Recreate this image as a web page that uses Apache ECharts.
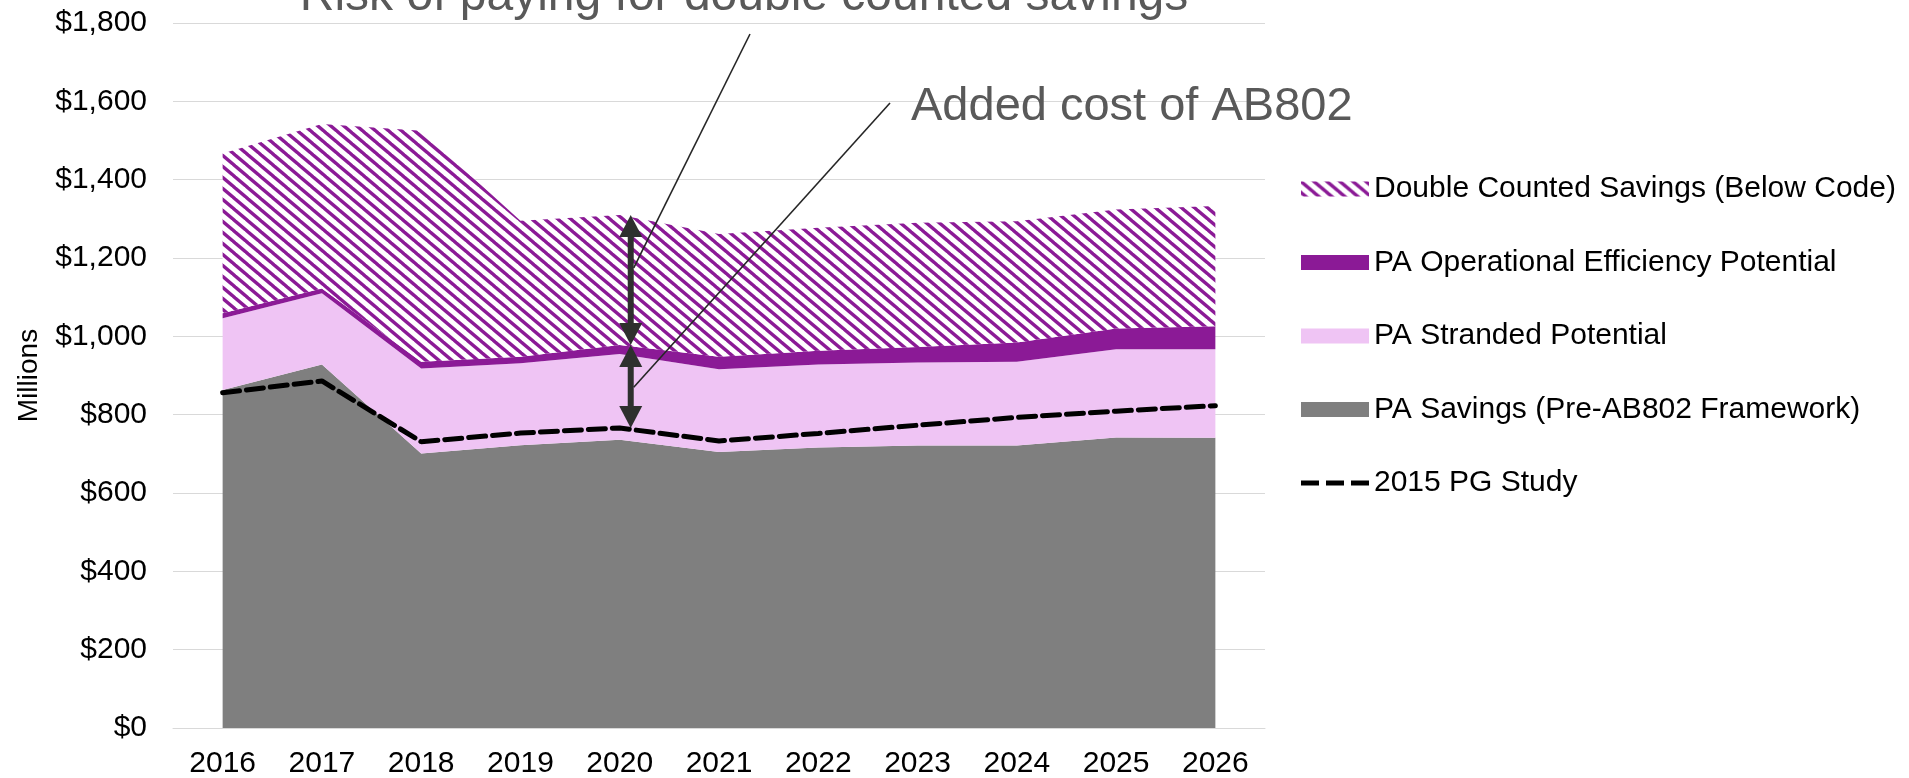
<!DOCTYPE html>
<html>
<head>
<meta charset="utf-8">
<script src="https://cdn.jsdelivr.net/npm/echarts@6/dist/echarts.min.js"></script>
<style>
  html, body { margin: 0; padding: 0; background: #ffffff; }
  #chart { width: 1909px; height: 778px; }
</style>
</head>
<body>
<div id="chart"></div>
<script>
// Program administrator savings outlook, $ millions per year
const years = ['2016', '2017', '2018', '2019', '2020', '2021', '2022', '2023', '2024', '2025', '2026'];
const paSavings          = [863, 928, 701, 722, 736, 705, 716, 721, 721, 742, 741];
const strandedPotential  = [183, 182, 217, 209, 219, 211, 212, 212, 214, 225, 226];
const operationalPotential = [13, 12, 17, 17, 23, 32, 35, 40, 49, 53, 59];
const doubleCounted      = [408, 420, 590, 347, 332, 313, 314, 317, 310, 304, 307];
const pgStudy2015        = [856, 886, 731, 753, 766, 733, 752, 773, 793, 809, 823];

const yMin = 0, yMax = 1800, yStep = 200;

// Annotation: year where the two cost gaps are marked, and where the leader lines touch the arrows
const markYear = '2020';
const leaderValues = [1175, 870];

const seriesNames = [
  'PA Savings (Pre-AB802 Framework)',
  'PA Stranded Potential',
  'PA Operational Efficiency Potential',
  'Double Counted Savings (Below Code)',
  '2015 PG Study'
];

const PURPLE = '#8B1A96';
const PINK = '#EFC4F4';
const GREY = '#7F7F7F';

// Diagonal hatch for the double counted band (stripes running down to the right)
function hatchPattern() {
  const w = 13, h = 11;
  const c = document.createElement('canvas');
  c.width = w; c.height = h;
  const ctx = c.getContext('2d');
  ctx.fillStyle = '#ffffff';
  ctx.fillRect(0, 0, w, h);
  ctx.strokeStyle = PURPLE;
  ctx.lineWidth = 3.4;
  const dx = w / h;
  for (const k of [-1, 0, 1]) {
    ctx.beginPath();
    ctx.moveTo(k * w - dx, -1);
    ctx.lineTo(k * w + w + dx, h + 1);
    ctx.stroke();
  }
  return { image: c, repeat: 'repeat' };
}
const HATCH = hatchPattern();

const FONT = '"Liberation Sans", Arial, sans-serif';

// Legend glyph for the dashed study line: three dashes centred in the icon box
const DASH_ICON = 'path://M0,0M68,15M0,5h18v5h-18zM25,5h18v5h-18zM50,5h18v5h-18z';

function areaSeries(name, data, color) {
  return {
    name, type: 'line', stack: 'total', data,
    symbol: 'none', smooth: false,
    lineStyle: { width: 0, color: 'rgba(0,0,0,0)' },
    itemStyle: { color },
    areaStyle: { color, opacity: 1 },
    emphasis: { disabled: true },
    z: 2
  };
}

const chart = echarts.init(document.getElementById('chart'), null, { renderer: 'canvas' });

chart.setOption({
  animation: false,
  backgroundColor: '#ffffff',
  grid: { left: 173, right: 644, top: 23, bottom: 50, containLabel: false, outerBoundsMode: 'none' },
  xAxis: {
    type: 'category',
    data: years,
    boundaryGap: true,
    axisLine: { show: true, lineStyle: { color: '#D9D9D9', width: 1 } },
    axisTick: { show: false },
    axisLabel: { color: '#000000', fontSize: 30, fontFamily: FONT, margin: 21, interval: 0 }
  },
  yAxis: {
    type: 'value',
    min: yMin, max: yMax, interval: yStep,
    name: 'Millions',
    nameLocation: 'middle',
    nameGap: 130,
    nameRotate: 90,
    nameTextStyle: { color: '#000000', fontSize: 28, fontFamily: FONT },
    axisLine: { show: false },
    axisTick: { show: false },
    splitLine: { lineStyle: { color: '#D9D9D9', width: 1 } },
    axisLabel: {
      color: '#000000', fontSize: 30, fontFamily: FONT, margin: 26,
      formatter: v => '$' + v.toLocaleString('en-US')
    }
  },
  legend: {
    orient: 'vertical',
    left: 1296,
    top: 169,
    itemWidth: 68,
    itemHeight: 15,
    itemGap: 43.5,
    selectedMode: false,
    textStyle: { color: '#000000', fontSize: 30, fontFamily: FONT, lineHeight: 30 },
    data: [
      { name: seriesNames[3], icon: 'rect', itemStyle: { color: HATCH } },
      { name: seriesNames[2], icon: 'rect', itemStyle: { color: PURPLE } },
      { name: seriesNames[1], icon: 'rect', itemStyle: { color: PINK } },
      { name: seriesNames[0], icon: 'rect', itemStyle: { color: GREY } },
      { name: seriesNames[4], icon: DASH_ICON, itemStyle: { color: '#000000' } }
    ]
  },
  series: [
    areaSeries(seriesNames[0], paSavings, GREY),
    areaSeries(seriesNames[1], strandedPotential, PINK),
    areaSeries(seriesNames[2], operationalPotential, PURPLE),
    areaSeries(seriesNames[3], doubleCounted, HATCH),
    {
      name: seriesNames[4], type: 'line', data: pgStudy2015,
      symbol: 'none',
      lineStyle: { color: '#000000', width: 5, type: [17, 7], cap: 'round' },
      itemStyle: { color: '#000000' },
      emphasis: { disabled: true },
      z: 5
    }
  ]
});

// Double-headed arrows and call-out labels at the marked year
function drawAnnotations() {
  const i = years.indexOf(markYear);
  const opTop = paSavings[i] + strandedPotential[i] + operationalPotential[i];
  const total = opTop + doubleCounted[i];
  const study = pgStudy2015[i];
  const px = v => chart.convertToPixel({ gridIndex: 0 }, [i, v]);

  const ax = px(total)[0] + 11;
  const yTotal = px(total)[1];
  const yOp = px(opTop)[1];
  const yStudy = px(study)[1];

  const ARROW = '#2E302E';
  const headL = 22, headW = 23, shaft = 6;

  function doubleArrow(yTop, yBot) {
    return [
      { type: 'line', shape: { x1: ax, y1: yTop + headL - 1, x2: ax, y2: yBot - headL + 1 },
        style: { stroke: ARROW, lineWidth: shaft }, z: 20 },
      { type: 'polygon', shape: { points: [[ax, yTop], [ax - headW / 2, yTop + headL], [ax + headW / 2, yTop + headL]] },
        style: { fill: ARROW }, z: 20 },
      { type: 'polygon', shape: { points: [[ax, yBot], [ax - headW / 2, yBot - headL], [ax + headW / 2, yBot - headL]] },
        style: { fill: ARROW }, z: 20 }
    ];
  }

  const l1 = px(leaderValues[0])[1];
  const l2 = px(leaderValues[1])[1];

  chart.setOption({
    graphic: [
      ...doubleArrow(yTotal, yOp),
      ...doubleArrow(yOp, yStudy),
      { type: 'line', shape: { x1: 750, y1: 34, x2: ax + 3, y2: l1 },
        style: { stroke: '#262626', lineWidth: 1.6 }, z: 21 },
      { type: 'line', shape: { x1: 890, y1: 103, x2: ax + 3, y2: l2 },
        style: { stroke: '#262626', lineWidth: 1.6 }, z: 21 },
      { type: 'text', z: 22,
        style: { text: 'Risk of paying for double counted savings', x: 744, y: -3,
                 font: '48px ' + FONT, fill: '#595959', align: 'center', verticalAlign: 'middle' } },
      { type: 'text', z: 22,
        style: { text: 'Added cost of AB802', x: 911, y: 107,
                 font: '47px ' + FONT, fill: '#595959', align: 'left', verticalAlign: 'middle' } }
    ]
  });
}
drawAnnotations();
</script>
</body>
</html>
